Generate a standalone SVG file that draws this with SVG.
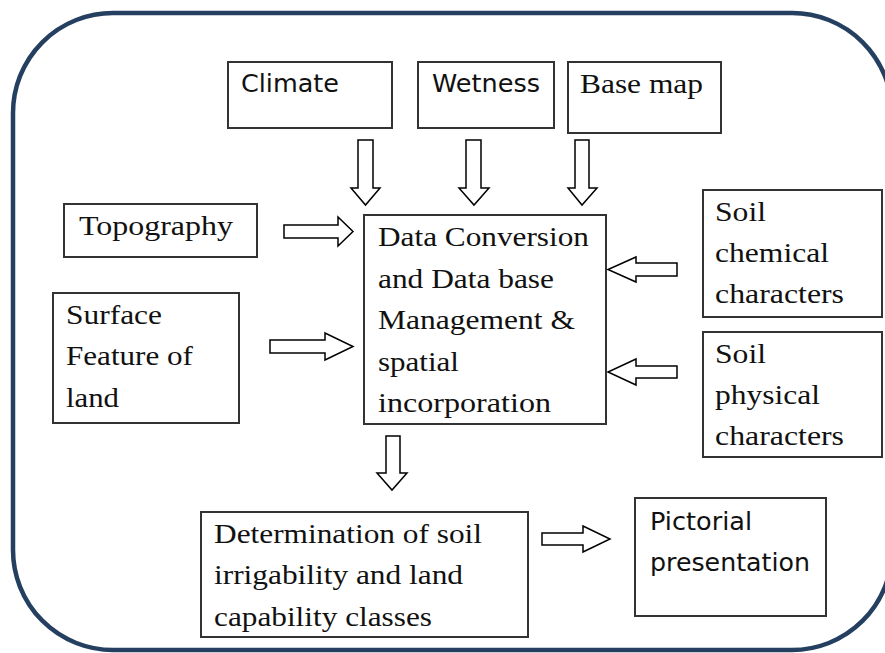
<svg xmlns="http://www.w3.org/2000/svg" width="885" height="653" viewBox="0 0 885 653">
<style>
.box{fill:#fff;stroke:#333;stroke-width:2}
.arr{fill:#fff;stroke:#000;stroke-width:1.5;stroke-linejoin:miter}
.serif{font-family:"Liberation Serif","Times New Roman",serif;font-size:28px;fill:#111}
.sans{font-family:"DejaVu Sans","Liberation Sans",sans-serif;font-size:25px;fill:#111}
</style>
<rect x="0" y="0" width="885" height="653" fill="#fff"/>
<rect id="frame" x="13" y="13" width="879" height="637" rx="100" ry="100" fill="none" stroke="#243f60" stroke-width="4.5"/>

<g id="climate">
<rect class="box" x="228" y="62" width="164" height="66"/>
<text class="sans" x="241" y="92" textLength="98" lengthAdjust="spacingAndGlyphs">Climate</text>
</g>
<g id="wetness">
<rect class="box" x="418" y="62" width="136" height="66"/>
<text class="sans" x="432" y="92" textLength="108" lengthAdjust="spacingAndGlyphs">Wetness</text>
</g>
<g id="basemap">
<rect class="box" x="568" y="62" width="153" height="71"/>
<text class="serif" x="580" y="93" textLength="123" lengthAdjust="spacingAndGlyphs">Base map</text>
</g>
<g id="topography">
<rect class="box" x="64" y="204" width="193" height="53"/>
<text class="serif" x="79" y="235" textLength="154" lengthAdjust="spacingAndGlyphs">Topography</text>
</g>
<g id="surface">
<rect class="box" x="53" y="293" width="186" height="130"/>
<text class="serif" x="66" y="324" textLength="96" lengthAdjust="spacingAndGlyphs">Surface</text>
<text class="serif" x="66" y="365" textLength="127" lengthAdjust="spacingAndGlyphs">Feature of</text>
<text class="serif" x="66" y="407" textLength="53" lengthAdjust="spacingAndGlyphs">land</text>
</g>
<g id="dataconv">
<rect class="box" x="364" y="215" width="242" height="209"/>
<text class="serif" x="378" y="246" textLength="211" lengthAdjust="spacingAndGlyphs">Data Conversion</text>
<text class="serif" x="378" y="288" textLength="176" lengthAdjust="spacingAndGlyphs">and Data base</text>
<text class="serif" x="378" y="329" textLength="197" lengthAdjust="spacingAndGlyphs">Management &amp;</text>
<text class="serif" x="378" y="371" textLength="81" lengthAdjust="spacingAndGlyphs">spatial</text>
<text class="serif" x="378" y="412" textLength="173" lengthAdjust="spacingAndGlyphs">incorporation</text>
</g>
<g id="soilchem">
<rect class="box" x="703" y="190" width="179" height="127"/>
<text class="serif" x="715" y="221" textLength="51" lengthAdjust="spacingAndGlyphs">Soil</text>
<text class="serif" x="715" y="262" textLength="114" lengthAdjust="spacingAndGlyphs">chemical</text>
<text class="serif" x="715" y="303" textLength="129" lengthAdjust="spacingAndGlyphs">characters</text>
</g>
<g id="soilphys">
<rect class="box" x="703" y="332" width="179" height="125"/>
<text class="serif" x="715" y="363" textLength="51" lengthAdjust="spacingAndGlyphs">Soil</text>
<text class="serif" x="715" y="404" textLength="105" lengthAdjust="spacingAndGlyphs">physical</text>
<text class="serif" x="715" y="445" textLength="129" lengthAdjust="spacingAndGlyphs">characters</text>
</g>
<g id="determination">
<rect class="box" x="201" y="512" width="327" height="125"/>
<text class="serif" x="214" y="543" textLength="268" lengthAdjust="spacingAndGlyphs">Determination of soil</text>
<text class="serif" x="214" y="584" textLength="249" lengthAdjust="spacingAndGlyphs">irrigability and land</text>
<text class="serif" x="214" y="626" textLength="218" lengthAdjust="spacingAndGlyphs">capability classes</text>
</g>
<g id="pictorial">
<rect class="box" x="635" y="498" width="191" height="118"/>
<text class="sans" x="650" y="530" textLength="102" lengthAdjust="spacingAndGlyphs">Pictorial</text>
<text class="sans" x="650" y="571" textLength="160" lengthAdjust="spacingAndGlyphs">presentation</text>
</g>

<g id="connectors">
<polygon class="arr" points="358,140 373,140 373,188 380,188 365.5,205 351,188 358,188"/>
<polygon class="arr" points="466,140 481,140 481,188 489,188 474,205 459,188 466,188"/>
<polygon class="arr" points="575,140 589,140 589,188 597,188 582,205 568,188 575,188"/>
<polygon class="arr" points="284,225 338,225 338,217 353,231.5 338,246 338,238 284,238"/>
<polygon class="arr" points="270,340 325,340 325,333 353,346.5 325,360 325,353 270,353"/>
<polygon class="arr" points="677,263 636,263 636,257 608,269.5 636,282 636,276 677,276"/>
<polygon class="arr" points="677,366 636,366 636,359 608,372 636,385 636,378 677,378"/>
<polygon class="arr" points="386,436 400,436 400,473 407,473 392,490 377,473 386,473"/>
<polygon class="arr" points="542,533 583,533 583,526 610,539 583,552 583,545 542,545"/>
</g>
</svg>
